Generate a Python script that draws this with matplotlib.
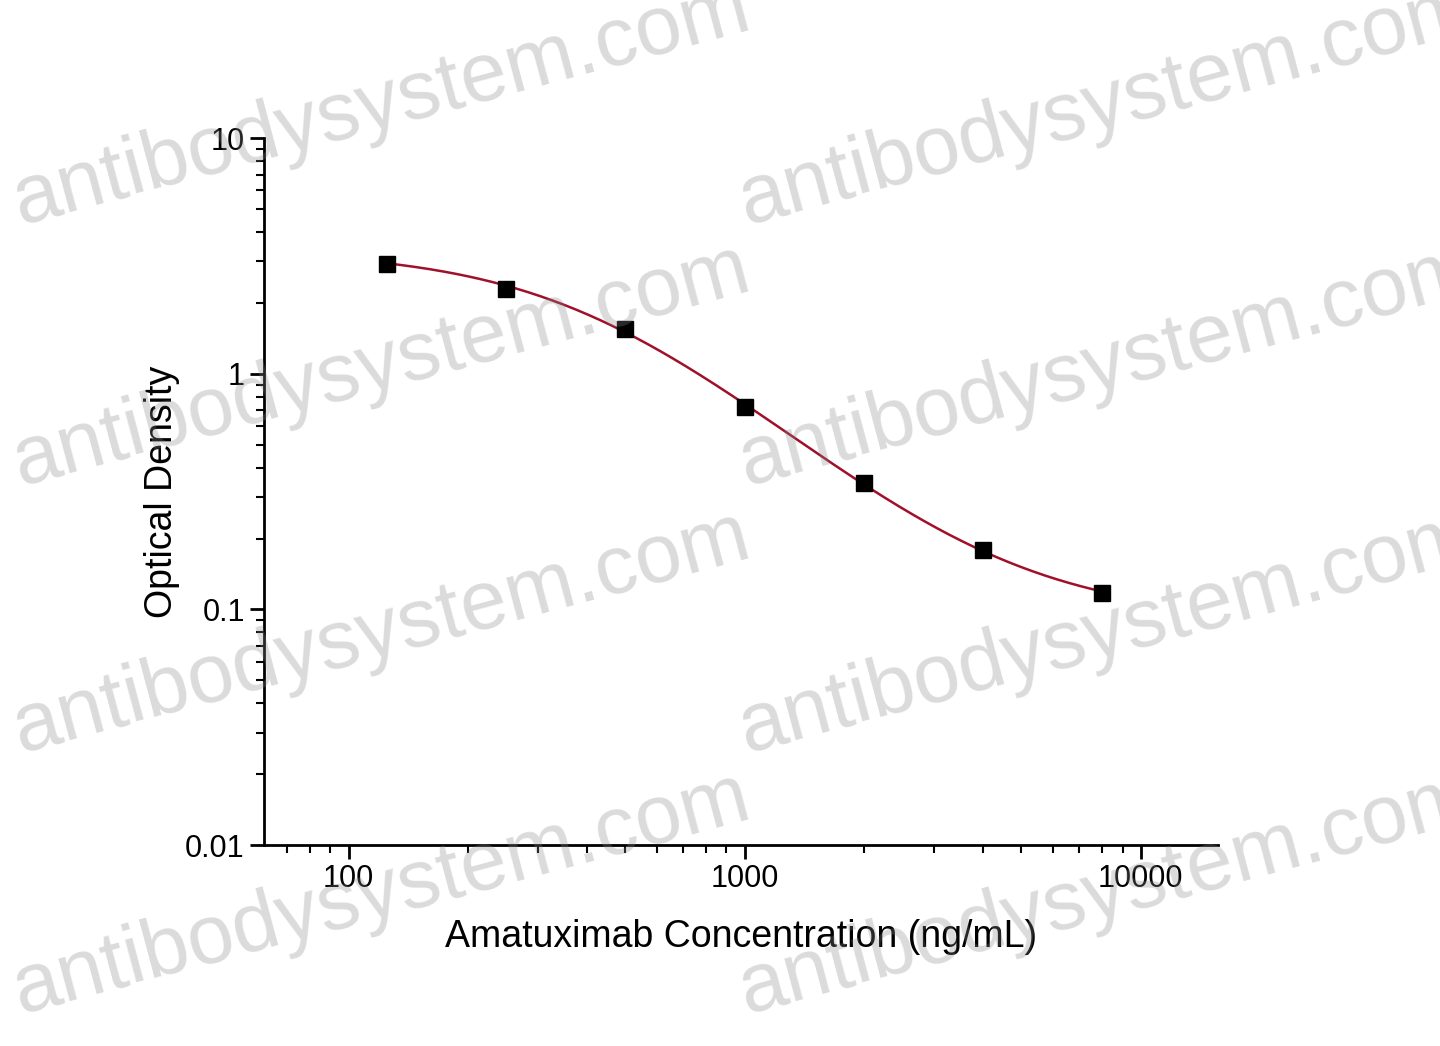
import numpy as np
import matplotlib
matplotlib.use("Agg")
import matplotlib.pyplot as plt
plt.rcParams['font.family'] = ['Liberation Sans', 'DejaVu Sans']

conc = [125, 250, 500, 1000, 2000, 4000, 8000]
od = [2.93, 2.29, 1.55, 0.72, 0.345, 0.178, 0.117]

x = np.array(conc, float); y = np.array(od, float)
def f(xx, A, D, C, B):
    return D + (A - D) / (1 + (xx / C) ** B)
best = None
for A in np.linspace(2.8, 4.0, 25):
    for D in np.linspace(0.05, 0.11, 13):
        for C in np.logspace(2.3, 3.3, 41):
            for B in np.linspace(0.8, 2.0, 25):
                e = np.sum((np.log(f(x, A, D, C, B)) - np.log(y)) ** 2)
                if best is None or e < best[0]:
                    best = (e, A, D, C, B)
_, A, D, C, B = best

fig = plt.figure(figsize=(14.4, 10.46), dpi=100)
ax = fig.add_axes([0.183, 0.192, 0.663, 0.676])
xs = np.logspace(np.log10(125), np.log10(8000), 300)
ax.plot(xs, f(xs, A, D, C, B), color="#a0102a", lw=1.8, zorder=2)
ax.plot(x, y, "s", color="black", ms=11, zorder=3)
ax.set_xscale("log"); ax.set_yscale("log")
ax.set_xlim(61, 15700); ax.set_ylim(0.01, 10)
ax.set_xticks([100, 1000, 10000]); ax.set_xticklabels(["100", "1000", "10000"])
ax.set_yticks([0.01, 0.1, 1, 10]); ax.set_yticklabels(["0.01", "0.1", "1", "10"])
for s in ["top", "right"]:
    ax.spines[s].set_visible(False)
for s in ["left", "bottom"]:
    ax.spines[s].set_linewidth(2)
ax.tick_params(which="major", direction="out", length=10, width=2, labelsize=22)
ax.tick_params(which="minor", direction="out", length=6, width=1.5)
ax.set_xlabel("Amatuximab Concentration (ng/mL)", fontsize=27, labelpad=18)
ax.set_ylabel("Optical Density", fontsize=27)

for (px, py) in [(0.003, 0.77), (0.507, 0.77), (0.003, 0.52), (0.507, 0.52),
                 (0.003, 0.265), (0.507, 0.265), (0.003, 0.015), (0.507, 0.015)]:
    fig.text(px, py, "antibodysystem.com", fontsize=60, color="#888888", alpha=0.3,
             rotation=15, ha="left", va="bottom")
fig.savefig("out.png", dpi=100)
